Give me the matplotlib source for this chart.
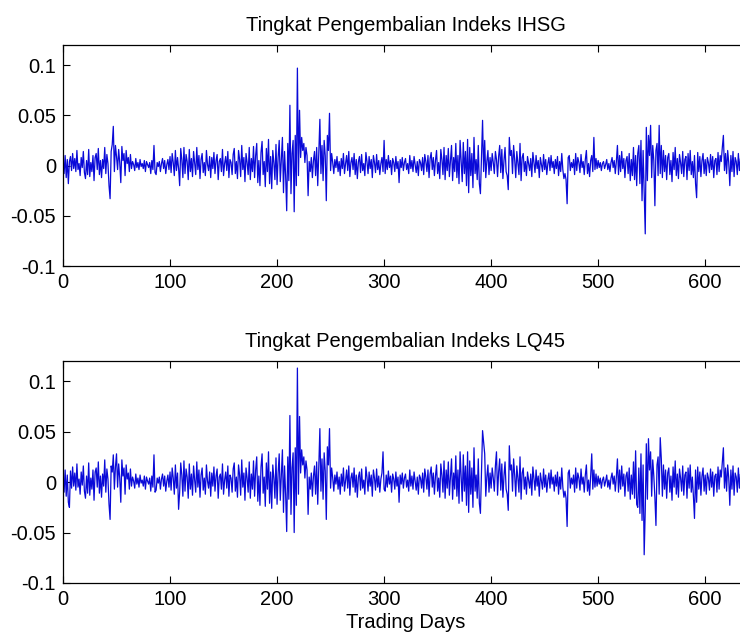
import numpy as np
import matplotlib
matplotlib.use('Agg')
import matplotlib.pyplot as plt
from matplotlib.ticker import FuncFormatter

# daily returns, in thousandths (day 0..639)
ihsg_k = [
    3, -8, 10, -12, 6, -18, 4, 9, -5, 12, -3, 7, -6, 15, -4, 2, -10, 8, -2, 14,
    -7, -13, 5, -9, 16, -11, 3, -6, 10, -15, 8, 12, -4, 17, -9, 5, -12, 6, -3, 18,
    -8, 11, 2, -20, -33, 14, 21, 39, -6, 20, 9, -4, 16, 3, -17, 19, 5, 12, -10, 15,
    2, 8, -6, 11, -3, 4, 1, -5, 7, -2, 3, -4, 6, -1, 2, -3, 5, -6, 4, 1,
    -2, 3, -8, 5, -4, 20, -7, -9, 3, -1, 4, -6, 2, 7, -3, 5, -8, 1, 6, -4,
    9, -7, 12, 3, -10, 15, -5, 8, -3, -20, 17, 6, -12, 18, -8, 11, 4, -14, 16, -6,
    7, -11, 14, 2, -9, 18, -4, 10, -13, 6, 12, -7, 3, -10, 15, 1, -5, 9, -12, 8,
    -3, 13, -8, 5, 11, -14, 4, 7, -6, 16, -10, 2, 9, -5, 14, -12, 6, 3, -9, 11,
    17, -8, 4, -13, 15, 6, -11, 20, -4, 8, -16, 12, 3, -9, 18, -14, 7, -6, 19, -12,
    10, 22, -17, 5, -20, 13, 24, -9, 4, -21, 17, -6, 26, -18, 9, -23, 15, 3, -14, 21,
    -19, 8, 25, -16, 5, 28, -27, 14, -10, -45, 22, -15, 60, -28, 12, 25, -46, 30, -20, 97,
    -10, 55, 8, 28, 15, 22, 3, 18, 10, -30, 4, -6, 8, -12, 5, 14, -10, 18, -20, 12,
    46, -8, 20, -15, 25, 10, -35, 30, 15, 52, -5, 12, 3, -8, 6, -2, 9, -6, 4, -10,
    7, -3, 12, -8, 2, 10, -5, 14, -11, 3, 8, -4, 12, -9, 6, -13, 4, 9, -7, 11,
    -5, 2, -10, 13, 4, -8, 9, -3, 6, -12, 10, 3, -7, 11, -4, 5, -9, 2, 8, -6,
    25, -8, 6, -4, 10, -2, 5, -9, 7, 3, -6, 9, -3, 4, -17, 6, -2, 8, -5, 3,
    7, -4, 2, -8, 10, -3, 5, -6, 9, 1, -7, 4, -10, 6, 3, -5, 8, -9, 11, 4,
    -6, 10, -12, 7, 13, -4, 8, -10, 5, 15, -8, 3, -13, 16, 6, -9, 18, -14, 10, -5,
    17, -11, 4, 20, -15, 8, -6, 22, -12, 10, -18, 25, 5, -16, 23, -8, 14, -20, 26, -27,
    18, -10, 12, -22, 28, -8, 6, -14, 20, -18, -28, 10, 45, -6, 25, -12, 4, 15, -9, 8,
    -5, 12, 3, -8, 14, 6, -11, 9, 20, -7, 16, -13, 5, 18, -6, -10, -24, 28, 10, 15,
    -8, 20, 6, -12, 14, 3, -9, 22, -15, 8, 12, -6, 4, -10, 9, 2, -5, 7, -11, 13,
    3, -7, 10, -3, 5, -12, 8, 1, -6, 11, -4, 6, -9, 2, 8, -5, 10, -2, 4, -8,
    6, -3, 9, -10, 4, -6, 12, -4, -13, -8, -14, -38, 8, 10, -5, 3, -2, 6, -9, 12,
    -5, 8, 3, -7, 11, -2, 4, -9, 6, 15, -8, 2, -11, 5, 10, -6, 28, -4, 7, -3,
    5, -2, 3, -5, 2, 4, -3, 1, 6, -4, 2, -6, 3, 8, -2, 5, -8, 4, 20, -9,
    10, -6, 14, -3, 7, -12, 5, 9, -8, 12, -15, 6, -10, 18, -14, 10, -20, 12, 20, -18,
    25, -35, 15, -25, -68, 38, -15, 30, 10, 40, -12, 20, 5, -40, 15, 22, -10, 40, -8, 20,
    -12, 15, -6, 10, -14, 8, 12, -9, 5, -16, 13, -4, 18, -10, 7, -13, 11, 3, -8, 14,
    -11, 6, 9, -14, 12, -5, 15, -9, 4, -12, 10, -18, -32, 13, -6, 9, -11, 5, 12, -8,
    6, -10, 8, 3, -7, 11, -4, 9, -12, 5, 7, -9, 13, -6, 10, 4, 18, 30, -5, 12,
    -8, 15, 3, -20, 10, -6, 14, -11, 8, 4, -9, 12, -5, 7, -10, 9, 3, -6, 8, -4,
]

lq45_k = [
    4, -10, 12, -14, 7, -20, -25, 11, -6, 15, -4, 9, -8, 18, -5, 3, -12, 10, -3, 16,
    -9, -16, 6, -11, 19, -13, 4, -7, 12, -18, 10, 14, -5, 20, -11, 6, -15, 8, -4, 22,
    -10, 13, 3, -22, -37, 16, 10, 27, -7, 15, 28, -5, 18, 4, -20, 22, 6, 14, -12, 17,
    3, 9, -7, 13, -4, 5, 1, -6, 8, -2, 4, -5, 7, -1, 2, -4, 6, -7, 5, 1,
    -2, 4, -9, 6, -5, 27, -10, -8, 4, -1, 5, -7, 3, 8, -4, 6, -9, 1, 7, -5,
    10, -8, 14, 4, -12, 17, -6, 9, -27, -10, 19, 7, -14, 21, -9, 13, 5, -16, 18, -7,
    8, -13, 16, 2, -10, 20, -5, 12, -15, 7, 14, -8, 4, -12, 17, 1, -6, 10, -14, 9,
    -4, 15, -9, 6, 13, -16, 5, 8, -7, 18, -12, 2, 10, -6, 16, -14, 7, 4, -10, 13,
    19, -9, 5, -15, 17, 7, -13, 22, -5, 9, -18, 14, 4, -10, 20, -16, 8, -7, 21, -14,
    12, 25, -19, 6, -23, 15, 28, -11, 5, -24, 19, -7, 30, -21, 10, -26, 17, 4, -16, 24,
    -22, 9, 28, -18, 6, 32, -30, 16, -12, -49, 25, -17, 66, -32, 14, 29, -50, 34, -23, 113,
    -12, 65, 9, 32, 17, 25, 4, 21, 12, -32, 5, -7, 9, -14, 6, 16, -12, 20, -22, 14,
    53, -9, 23, -17, 29, 11, -37, 35, 17, 53, -6, 14, 4, -9, 7, -2, 10, -7, 5, -12,
    8, -4, 14, -9, 2, 12, -6, 16, -13, 4, 9, -5, 14, -10, 7, -15, 5, 10, -8, 13,
    -6, 2, -12, 15, 5, -9, 10, -4, 7, -14, 12, 4, -8, 13, -5, 6, -10, 3, 9, 30,
    -7, -9, 7, -5, 11, -2, 6, -10, 8, 3, -7, 10, -4, 5, -20, 7, -2, 9, -6, 4,
    8, -5, 2, -9, 12, -4, 6, -7, 10, 1, -8, 5, -12, 7, 4, -6, 9, -10, 13, 5,
    -7, 12, -14, 8, 15, -5, 9, -12, 6, 17, -9, 4, -15, 18, 7, -10, 21, -16, 12, -6,
    20, -13, 5, 23, -17, 9, -7, 26, -14, 12, -21, 30, 6, -19, 27, -9, 16, -23, 30, -30,
    21, -12, 14, -25, 34, -9, 7, -16, 23, -21, -31, 12, 51, 40, 28, -14, 5, 17, -10, 9,
    -6, 14, 4, -9, 16, 30, -13, 10, 23, -8, 18, -15, 6, 20, -7, -12, -28, 36, 12, 17,
    -9, 23, 7, -14, 16, 4, -10, 25, -17, 9, 14, -7, 5, -12, 10, 2, -6, 8, -13, 15,
    4, -8, 12, -4, 6, -14, 9, 1, -7, 13, -5, 7, -10, 2, 9, -6, 12, -2, 5, -9,
    7, -4, 10, -12, 5, -7, 14, -5, -15, -9, -16, -44, 9, 12, -6, 4, -2, 7, -10, 14,
    -6, 9, 4, -8, 13, -2, 5, -10, 7, 17, -9, 2, -13, 6, 28, -7, 12, -5, 8, -4,
    6, -2, 4, -6, 2, 5, -4, 1, 7, -5, 2, -7, 4, 9, -2, 6, -9, 5, 23, -10,
    12, -7, 16, -4, 8, -14, 6, 10, -9, 14, -17, 7, -12, 20, -16, 31, -22, -25, 14, -31,
    28, -38, 17, -72, -28, 38, -17, 43, 12, 30, -14, 22, 6, -15, -43, 17, 25, -12, 44, 23,
    -14, 17, -7, 12, -16, 9, 14, -10, 6, -18, 15, -5, 21, -12, 8, -15, 13, 4, -9, 16,
    -13, 7, 10, -16, 14, -6, 17, -10, 5, -14, -36, 12, -20, 15, -7, 10, -13, 6, 14, -9,
    7, -12, 9, 4, -8, 13, -5, 10, -14, 6, 8, -10, 15, -7, 12, 5, 20, 34, -6, 14,
    -9, 17, 4, -23, 12, -7, 16, -13, 9, 5, -10, 14, -6, 8, -12, 10, 4, -7, 9, -5,
]

titles = ['Tingkat Pengembalian Indeks IHSG', 'Tingkat Pengembalian Indeks LQ45']
xticks = [0, 100, 200, 300, 400, 500, 600]
yticks = [-0.1, -0.05, 0, 0.05, 0.1]

plt.rcParams['font.family'] = ['Liberation Sans', 'DejaVu Sans']

fig = plt.figure(figsize=(7.4, 6.42), dpi=100)
fig.patch.set_facecolor('white')

# axes run a bit past the right edge, like the cropped original
positions = [[63/740, 376/642, 685/740, 221/642],
             [63/740, 59/642, 685/740, 222/642]]

for pos, series, title in zip(positions, [ihsg_k, lq45_k], titles):
    ax = fig.add_axes(pos)
    y = np.array(series) / 1000.
    x = np.arange(len(y))
    ax.plot(x, y, color='#0a0ad8', lw=0.9)
    ax.set_xlim(0, 640)
    ax.set_ylim(-0.1, 0.12)
    ax.set_xticks(xticks)
    ax.set_yticks(yticks)
    ax.yaxis.set_major_formatter(FuncFormatter(lambda v, p: '%g' % v))
    ax.tick_params(direction='in', top=True, right=True, length=5,
                   labelsize=14.5, pad=5)
    for s in ax.spines.values():
        s.set_linewidth(0.9)
    ax.set_title(title, fontsize=14.5, pad=10)

ax.set_xlabel('Trading Days', fontsize=14.5, labelpad=3)

fig.savefig('out.png', dpi=100, facecolor='white')
